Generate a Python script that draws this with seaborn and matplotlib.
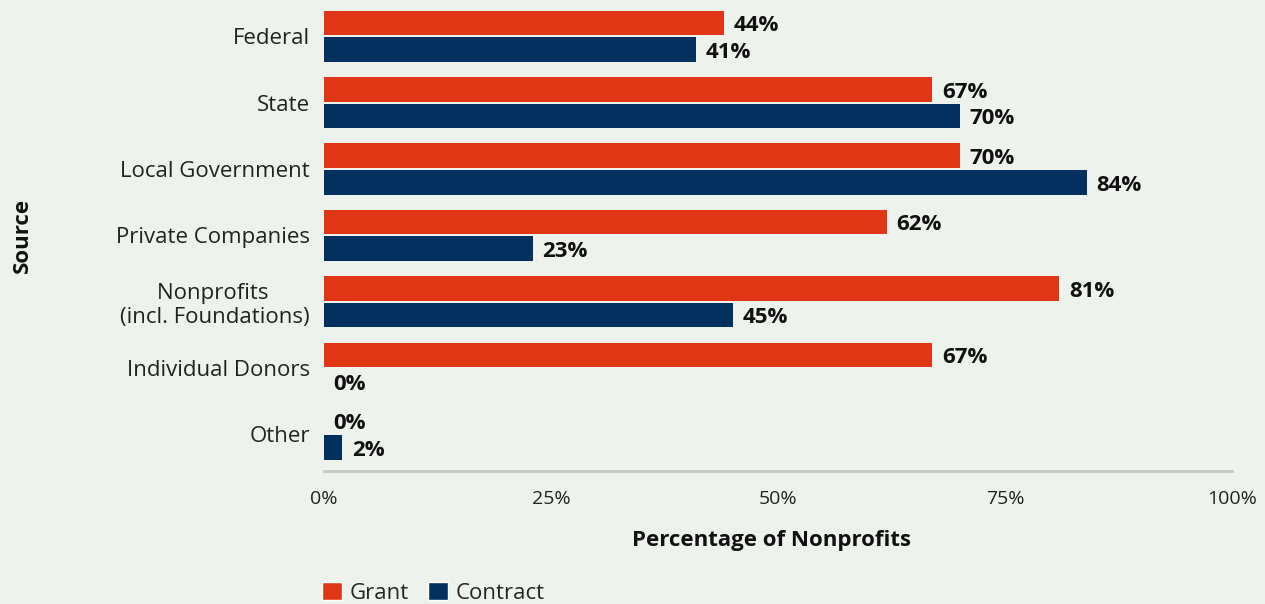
import matplotlib
matplotlib.use("Agg")
import matplotlib.pyplot as plt
import seaborn as sns
import pandas as pd
from matplotlib.patches import Patch

# Funding sources and share of nonprofits receiving each type
sources = ["Federal", "State", "Local Government", "Private Companies",
           "Nonprofits \n(incl. Foundations)", "Individual Donors", "Other"]
grant = [44, 67, 70, 62, 81, 67, 0]
contract = [41, 70, 84, 23, 45, 0, 2]
series = ["Grant", "Contract"]
ticks = [0, 25, 50, 75, 100]

BG = "#eef2ec"
RED = "#e03616"
NAVY = "#03305e"

df = pd.DataFrame({
    "Source": sources * 2,
    "Type": ["Grant"] * len(sources) + ["Contract"] * len(sources),
    "Value": grant + contract,
})

sns.set_theme(style="white")
plt.rcParams["font.family"] = ["Open Sans", "DejaVu Sans"]

fig = plt.figure(figsize=(12.65, 6.04), dpi=100, facecolor=BG)
ax = fig.add_axes([324 / 1265, 1 - 471 / 604, (1232 - 324) / 1265, 468 / 604])
ax.set_facecolor(BG)

sns.barplot(data=df, y="Source", x="Value", hue="Type", hue_order=series,
            order=sources, palette=[RED, NAVY], orient="h", width=0.8,
            gap=0.075, saturation=1, linewidth=0, ax=ax, legend=False)

for cont in ax.containers:
    texts = ax.bar_label(cont, fmt="{:.0f}%", padding=7, fontsize=16,
                         fontweight="bold", color="#111111")
    for t in texts:
        # nudge value labels slightly below the bar centre line
        x0, y0 = t.xyann
        t.xyann = (x0, y0 - 2)

ax.set_xlim(0, 100)
ax.set_ylim(6.55, -0.5)
ax.set_xticks(ticks)
ax.set_xticklabels([f"{t}%" for t in ticks], fontsize=14, color="#222222")
ax.tick_params(axis="x", length=0, pad=14)
ax.tick_params(axis="y", length=0, pad=10, labelsize=16, labelcolor="#222222")
for lab in ax.get_yticklabels():
    lab.set_horizontalalignment("right")
    lab.set_multialignment("center")

for s in ["top", "right", "left"]:
    ax.spines[s].set_visible(False)
ax.spines["bottom"].set_color("#c8c8c8")
ax.spines["bottom"].set_linewidth(2)

ax.set_xlabel("Percentage of Nonprofits", fontsize=16, fontweight="bold",
              color="#111111")
ax.xaxis.set_label_coords((772 - 324) / (1232 - 324), -0.126)
ax.set_ylabel("")
fig.text(22 / 1265, 1 - 235 / 604, "Source", rotation=90, fontsize=16,
         fontweight="bold", color="#111111", ha="center", va="center")

handles = [Patch(facecolor=RED, label="Grant"), Patch(facecolor=NAVY, label="Contract")]
fig.legend(handles=handles, loc="lower left", bbox_to_anchor=(313 / 1265, -0.014),
           ncol=2, frameon=False, fontsize=16, handlelength=0.9, handleheight=0.9,
           handletextpad=0.35, columnspacing=0.85, borderaxespad=0)

fig.savefig("out.png", dpi=100, facecolor=BG)
